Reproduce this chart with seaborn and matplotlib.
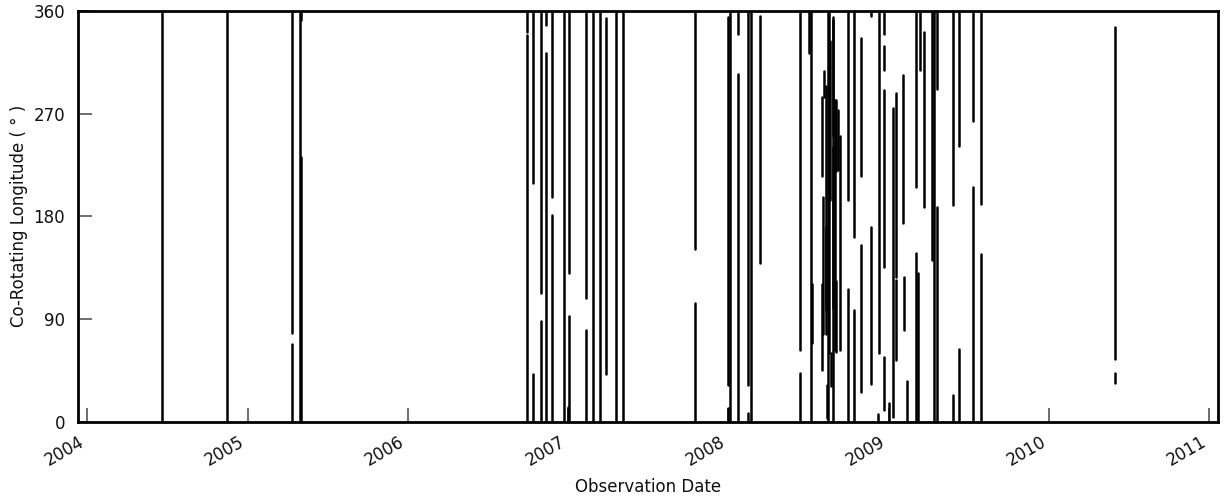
import matplotlib
matplotlib.use("Agg")
import matplotlib.pyplot as plt
import pandas as pd
import seaborn as sns

# Observation tracks: date of each track and its longitude span (degrees)
seg_dates = [
    "2004-06-21", "2004-11-15",
    "2005-04-13", "2005-04-13", "2005-05-01", "2005-05-04", "2005-05-04",
    "2006-09-29", "2006-09-29", "2006-10-14", "2006-10-14", "2006-10-31", "2006-10-31",
    "2006-11-12", "2006-11-12", "2006-11-25", "2006-11-25", "2006-12-23",
    "2007-01-01", "2007-01-04", "2007-01-04", "2007-02-11", "2007-02-11",
    "2007-02-27", "2007-03-15", "2007-03-30", "2007-04-21", "2007-05-06",
    "2007-10-18", "2007-10-18", "2007-12-31", "2007-12-31",
    "2008-01-06", "2008-01-23", "2008-01-23", "2008-02-16", "2008-02-16",
    "2008-02-22", "2008-03-14",
    "2008-06-13", "2008-06-13", "2008-07-04", "2008-07-07", "2008-07-10",
    "2008-08-01", "2008-08-01", "2008-08-05", "2008-08-06", "2008-08-11", "2008-08-12",
    "2008-08-14", "2008-08-16", "2008-08-18", "2008-08-19", "2008-08-21", "2008-08-23",
    "2008-08-26", "2008-08-26", "2008-08-28",
    "2008-08-31", "2008-09-04", "2008-09-04", "2008-09-08", "2008-09-11",
    "2008-09-30", "2008-09-30",
    "2008-10-14", "2008-10-14", "2008-10-30", "2008-10-30",
    "2008-11-22", "2008-11-22", "2008-12-08", "2008-12-10",
    "2008-12-21", "2008-12-21", "2008-12-21", "2008-12-21",
    "2009-01-02", "2009-01-11", "2009-01-17", "2009-01-17",
    "2009-02-03", "2009-02-05", "2009-02-11",
    "2009-03-04", "2009-03-05", "2009-03-09", "2009-03-13", "2009-03-23",
    "2009-04-09", "2009-04-14", "2009-04-20", "2009-04-20",
    "2009-05-27", "2009-05-27", "2009-06-11", "2009-06-11",
    "2009-07-13", "2009-07-13", "2009-07-30", "2009-07-30",
    "2010-06-01", "2010-06-01",
]
seg_lo = [
    0, 0,
    78, 0, 0, 0, 352,
    342, 0, 209, 0, 113, 0,
    348, 0, 197, 0, 0,
    0, 130, 0, 108, 0,
    0, 0, 42, 0, 0,
    151, 0, 32, 0,
    0, 340, 0, 32, 0,
    0, 139,
    63, 0, 323, 0, 69,
    215, 45, 77, 285, 77, 98,
    3, 0, 294, 60, 194, 31,
    0, 250, 100,
    63, 61, 220, 221, 63,
    194, 0,
    0, 162, 215, 26,
    356, 33, 0, 60,
    340, 308, 136, 10,
    0, 4, 127, 54,
    174, 80, 0,
    0, 206, 0, 308, 188,
    142, 0, 0, 292,
    190, 0, 242, 0,
    264, 0, 191, 0,
    55, 34,
]
seg_hi = [
    360, 360,
    360, 68, 360, 232, 360,
    360, 339, 360, 42, 360, 88,
    360, 323, 360, 181, 360,
    13, 360, 93, 360, 80,
    360, 360, 354, 360, 360,
    360, 104, 355, 12,
    360, 360, 305, 360, 8,
    360, 356,
    360, 43, 360, 360, 121,
    285, 121, 197, 307, 294, 171,
    32, 360, 360, 300, 334, 60,
    241, 352, 355,
    282, 123, 282, 273, 250,
    360, 116,
    98, 360, 336, 155,
    360, 171, 7, 360,
    360, 329, 291, 57,
    16, 275, 288, 124,
    304, 127, 36,
    148, 360, 130, 360, 342,
    360, 360, 188, 360,
    360, 23, 360, 64,
    360, 206, 360, 147,
    346, 43,
]
year_ticks = [2004, 2005, 2006, 2007, 2008, 2009, 2010, 2011]
lon_ticks = [0, 90, 180, 270, 360]

sns.set_theme(style="white")
plt.rcParams["font.family"] = ["DejaVu Sans"]

# Long-form table: each track contributes its two end points
rows = []
for i, (d, lo, hi) in enumerate(zip(seg_dates, seg_lo, seg_hi)):
    rows.append({"seg": i, "date": pd.Timestamp(d), "lon": lo})
    rows.append({"seg": i, "date": pd.Timestamp(d), "lon": hi})
df = pd.DataFrame(rows)

fig = plt.figure(figsize=(12.25, 4.97), dpi=100)
ax = fig.add_axes([0.0634, 0.1515, 0.9311, 0.8264])

sns.lineplot(data=df, x="date", y="lon", units="seg", estimator=None,
             sort=False, color="black", linewidth=1.8, ax=ax)

ax.set_xlim(pd.Timestamp("2003-12-11"), pd.Timestamp("2011-01-22"))
ax.set_ylim(0, 360)
ax.set_xticks([pd.Timestamp(f"{y}-01-01") for y in year_ticks])
ax.set_xticklabels([str(y) for y in year_ticks], rotation=30, ha="right")
ax.set_yticks(lon_ticks)
ax.set_yticklabels([str(v) for v in lon_ticks])
ax.tick_params(axis="both", direction="in", length=10, width=1.2,
               color="#555555", labelsize=12, labelcolor="#111111",
               bottom=True, left=True, top=False, right=False)
ax.tick_params(axis="y", pad=9)
ax.tick_params(axis="x", pad=8)

for s in ax.spines.values():
    s.set_linewidth(2)
    s.set_color("black")

ax.set_xlabel("Observation Date", fontsize=12, color="#111111", labelpad=6)
ax.set_ylabel("Co-Rotating Longitude ( ° )", fontsize=12, color="#111111")
ax.grid(False)

fig.savefig("out.png", dpi=100)
